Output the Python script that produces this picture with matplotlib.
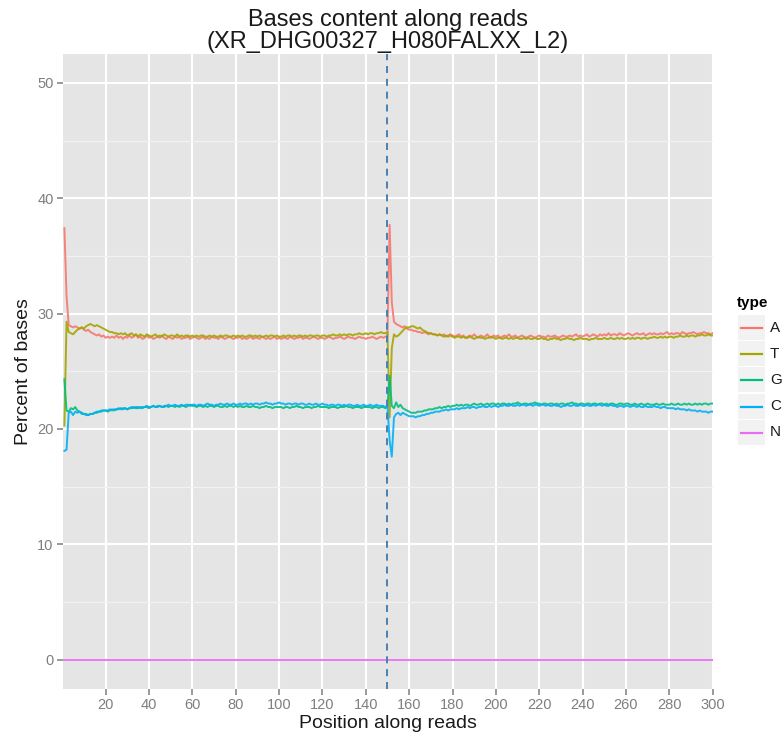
import matplotlib
matplotlib.use("Agg")
import matplotlib.pyplot as plt
from matplotlib.patches import Rectangle
from matplotlib.lines import Line2D

plt.rcParams['font.family'] = ['Liberation Sans', 'DejaVu Sans']

positions = list(range(1, 301))

base_A = [
    37.4, 31.5, 29.0, 28.9, 28.8, 28.9, 28.8, 28.7, 28.8, 28.6, 28.5, 28.6, 28.4, 28.3, 28.2, 28.1, 28.2, 28.0, 28.1, 27.9,
    28.0, 27.9, 28.0, 27.9, 28.1, 27.9, 28.0, 27.8, 28.0, 27.9, 28.1, 27.9, 28.0, 28.2, 27.9, 28.0, 27.8, 27.9, 28.1, 27.9,
    28.0, 27.8, 27.9, 28.0, 27.9, 28.1, 27.9, 27.8, 28.0, 27.9, 27.8, 28.0, 27.9, 28.0, 27.8, 27.9, 27.9, 28.0, 27.8, 27.9,
    28.0, 27.9, 27.8, 27.9, 28.0, 27.8, 27.9, 27.8, 28.0, 27.9, 27.9, 27.8, 28.0, 27.9, 27.8, 27.9, 28.0, 27.9, 27.8, 27.9,
    27.9, 28.0, 27.8, 27.9, 27.8, 27.9, 28.0, 27.8, 27.9, 27.9, 27.8, 28.0, 27.9, 27.8, 27.9, 27.8, 27.9, 28.0, 27.8, 27.9,
    27.8, 27.9, 27.9, 27.8, 28.0, 27.9, 27.8, 27.9, 27.9, 28.0, 27.8, 27.9, 27.9, 27.8, 27.9, 28.0, 27.9, 27.8, 27.9, 27.9,
    27.8, 27.9, 28.0, 27.9, 27.8, 27.9, 27.9, 28.0, 27.9, 27.8, 27.9, 28.0, 27.9, 27.9, 27.8, 27.9, 28.0, 27.9, 27.9, 27.8,
    27.9, 27.9, 28.0, 27.9, 27.8, 27.9, 28.0, 27.9, 28.0, 28.0, 37.7, 31.0, 29.3, 29.1, 29.0, 28.9, 28.8, 28.9, 28.7, 28.6,
    28.6, 28.5, 28.5, 28.4, 28.4, 28.3, 28.4, 28.3, 28.2, 28.3, 28.2, 28.2, 28.1, 28.2, 28.1, 28.2, 28.0, 28.1, 28.2, 28.1,
    28.0, 28.1, 28.2, 28.0, 28.1, 27.9, 28.0, 28.1, 28.0, 28.2, 28.0, 27.9, 28.1, 28.0, 28.0, 28.2, 28.0, 27.9, 28.1, 28.0,
    28.1, 27.9, 28.0, 28.1, 28.0, 28.2, 28.0, 28.0, 28.1, 27.9, 28.0, 28.1, 28.0, 27.9, 28.0, 28.1, 28.0, 27.9, 28.0, 28.1,
    28.0, 28.0, 27.9, 28.1, 28.0, 28.0, 28.1, 28.0, 27.9, 28.0, 28.1, 28.0, 28.0, 28.1, 28.0, 28.1, 28.2, 28.0, 28.1, 28.0,
    28.1, 28.2, 28.0, 28.1, 28.2, 28.1, 28.0, 28.2, 28.1, 28.2, 28.1, 28.3, 28.1, 28.2, 28.2, 28.1, 28.3, 28.2, 28.1, 28.2,
    28.3, 28.2, 28.1, 28.2, 28.3, 28.2, 28.2, 28.3, 28.1, 28.2, 28.3, 28.2, 28.3, 28.2, 28.2, 28.3, 28.2, 28.3, 28.4, 28.2,
    28.3, 28.2, 28.3, 28.3, 28.2, 28.4, 28.3, 28.2, 28.3, 28.3, 28.4, 28.3, 28.2, 28.3, 28.3, 28.4, 28.3, 28.3, 28.2, 28.3,
]

base_T = [
    20.3, 29.3, 28.4, 28.3, 28.2, 28.4, 28.6, 28.7, 28.8, 28.7, 28.9, 29.0, 29.1, 29.0, 28.9, 29.0, 28.9, 28.8, 28.7, 28.6,
    28.5, 28.4, 28.4, 28.3, 28.3, 28.2, 28.3, 28.2, 28.3, 28.1, 28.2, 28.3, 28.1, 28.2, 28.0, 28.2, 28.1, 28.0, 28.2, 28.1,
    28.0, 28.1, 28.2, 28.0, 28.1, 28.0, 28.2, 28.1, 28.0, 28.1, 28.1, 28.0, 28.2, 28.0, 28.1, 28.0, 28.1, 28.1, 28.0, 28.1,
    28.0, 28.1, 28.0, 28.1, 28.1, 28.0, 28.0, 28.1, 28.0, 28.1, 28.0, 28.0, 28.1, 28.0, 28.1, 28.1, 28.0, 28.0, 28.1, 28.0,
    28.1, 28.0, 28.1, 28.0, 28.0, 28.1, 28.1, 28.0, 28.1, 28.0, 28.1, 28.0, 28.0, 28.1, 28.0, 28.1, 28.1, 28.0, 28.1, 28.0,
    28.0, 28.1, 28.0, 28.1, 28.1, 28.0, 28.1, 28.0, 28.1, 28.1, 28.0, 28.1, 28.0, 28.1, 28.1, 28.0, 28.1, 28.1, 28.0, 28.1,
    28.1, 28.0, 28.1, 28.1, 28.2, 28.1, 28.1, 28.2, 28.1, 28.2, 28.1, 28.2, 28.2, 28.1, 28.2, 28.2, 28.3, 28.2, 28.2, 28.3,
    28.2, 28.3, 28.3, 28.2, 28.3, 28.3, 28.4, 28.3, 28.3, 28.4, 21.0, 27.0, 28.2, 28.0, 28.1, 28.3, 28.5, 28.7, 28.8, 28.8,
    28.9, 28.9, 28.8, 28.7, 28.8, 28.6, 28.5, 28.4, 28.3, 28.3, 28.2, 28.2, 28.1, 28.2, 28.1, 28.0, 28.1, 28.0, 28.1, 28.0,
    27.9, 28.0, 28.0, 27.9, 28.0, 27.9, 27.9, 28.0, 27.9, 27.8, 27.9, 28.0, 27.9, 27.9, 27.8, 27.9, 27.9, 28.0, 27.9, 27.8,
    27.9, 27.9, 27.8, 27.9, 27.9, 27.8, 27.9, 27.8, 27.9, 27.9, 27.8, 27.8, 27.9, 27.8, 27.9, 27.8, 27.8, 27.9, 27.8, 27.8,
    27.9, 27.8, 27.8, 27.7, 27.8, 27.8, 27.9, 27.8, 27.8, 27.7, 27.8, 27.8, 27.9, 27.8, 27.8, 27.7, 27.8, 27.8, 27.9, 27.8,
    27.8, 27.8, 27.7, 27.8, 27.8, 27.9, 27.8, 27.8, 27.8, 27.9, 27.8, 27.8, 27.9, 27.8, 27.8, 27.9, 27.8, 27.9, 27.8, 27.8,
    27.9, 27.8, 27.9, 27.8, 27.9, 27.9, 27.8, 27.9, 27.9, 27.8, 27.9, 27.9, 28.0, 27.9, 27.9, 28.0, 27.9, 28.0, 27.9, 28.0,
    28.0, 27.9, 28.0, 28.0, 28.1, 28.0, 28.0, 28.1, 28.0, 28.1, 28.1, 28.0, 28.1, 28.1, 28.2, 28.1, 28.1, 28.2, 28.1, 28.1,
]

base_G = [
    24.3, 21.6, 21.5, 21.8, 21.7, 21.9, 21.6, 21.5, 21.4, 21.3, 21.3, 21.2, 21.3, 21.3, 21.4, 21.4, 21.5, 21.5, 21.6, 21.6,
    21.5, 21.6, 21.7, 21.6, 21.7, 21.7, 21.8, 21.7, 21.8, 21.7, 21.8, 21.8, 21.9, 21.8, 21.8, 21.9, 21.8, 21.9, 21.9, 21.8,
    21.9, 22.0, 21.9, 21.9, 22.0, 21.9, 21.9, 22.0, 21.9, 22.0, 22.0, 21.9, 22.0, 21.9, 22.0, 22.0, 21.9, 22.0, 22.1, 22.0,
    22.0, 21.9, 22.0, 22.0, 21.9, 22.0, 21.9, 22.0, 22.0, 21.9, 22.0, 22.0, 21.9, 21.9, 22.0, 21.9, 22.0, 22.0, 21.9, 22.0,
    21.9, 22.0, 21.9, 21.9, 22.0, 21.9, 21.9, 22.0, 21.9, 21.9, 21.8, 21.9, 21.9, 22.0, 21.9, 21.9, 21.8, 21.9, 21.9, 21.9,
    21.9, 21.8, 21.9, 21.9, 21.8, 21.9, 21.9, 22.0, 21.9, 21.9, 21.8, 21.9, 21.9, 21.9, 21.8, 21.9, 21.9, 22.0, 21.9, 21.9,
    21.9, 21.9, 21.8, 21.9, 21.9, 21.9, 21.8, 21.9, 21.9, 21.9, 22.0, 21.9, 21.9, 21.8, 21.9, 21.9, 21.9, 21.8, 21.9, 21.9,
    21.9, 21.9, 21.8, 21.9, 21.9, 21.8, 21.9, 21.9, 21.8, 21.9, 24.6, 22.0, 21.8, 22.3, 21.9, 22.1, 21.8, 21.7, 21.6, 21.5,
    21.4, 21.4, 21.4, 21.5, 21.5, 21.5, 21.6, 21.6, 21.7, 21.7, 21.7, 21.8, 21.8, 21.9, 21.8, 21.9, 21.9, 22.0, 21.9, 22.0,
    22.0, 22.1, 22.0, 22.1, 22.0, 22.1, 22.1, 22.0, 22.1, 22.2, 22.1, 22.1, 22.2, 22.1, 22.1, 22.2, 22.1, 22.2, 22.2, 22.1,
    22.2, 22.1, 22.2, 22.2, 22.1, 22.2, 22.1, 22.2, 22.2, 22.3, 22.2, 22.1, 22.2, 22.2, 22.1, 22.2, 22.2, 22.3, 22.2, 22.2,
    22.1, 22.2, 22.2, 22.1, 22.2, 22.2, 22.1, 22.2, 22.1, 22.2, 22.2, 22.1, 22.2, 22.2, 22.3, 22.2, 22.2, 22.1, 22.2, 22.2,
    22.1, 22.2, 22.2, 22.1, 22.2, 22.2, 22.1, 22.2, 22.2, 22.1, 22.2, 22.1, 22.2, 22.2, 22.1, 22.1, 22.2, 22.2, 22.1, 22.2,
    22.2, 22.1, 22.1, 22.2, 22.1, 22.1, 22.2, 22.1, 22.1, 22.2, 22.1, 22.1, 22.1, 22.2, 22.1, 22.1, 22.2, 22.1, 22.1, 22.1,
    22.2, 22.1, 22.1, 22.2, 22.1, 22.1, 22.2, 22.1, 22.2, 22.1, 22.1, 22.2, 22.1, 22.2, 22.1, 22.2, 22.2, 22.1, 22.2, 22.2,
]

base_C = [
    18.1, 18.2, 21.4, 21.5, 21.2, 21.5, 21.4, 21.5, 21.3, 21.3, 21.2, 21.2, 21.3, 21.3, 21.4, 21.5, 21.5, 21.6, 21.6, 21.6,
    21.6, 21.7, 21.6, 21.7, 21.7, 21.8, 21.7, 21.8, 21.8, 21.7, 21.8, 21.9, 21.8, 21.9, 21.9, 21.8, 21.9, 21.9, 22.0, 21.9,
    21.9, 22.0, 21.9, 22.0, 22.0, 21.9, 22.0, 22.0, 22.1, 22.0, 22.0, 22.1, 22.0, 22.0, 22.1, 22.0, 22.1, 22.1, 22.0, 22.1,
    22.1, 22.0, 22.1, 22.1, 22.0, 22.1, 22.2, 22.1, 22.1, 22.0, 22.1, 22.1, 22.2, 22.1, 22.1, 22.2, 22.1, 22.1, 22.2, 22.1,
    22.1, 22.2, 22.1, 22.2, 22.2, 22.1, 22.2, 22.1, 22.2, 22.2, 22.1, 22.2, 22.2, 22.3, 22.2, 22.2, 22.1, 22.2, 22.2, 22.3,
    22.2, 22.2, 22.1, 22.2, 22.2, 22.1, 22.2, 22.2, 22.1, 22.2, 22.2, 22.1, 22.1, 22.2, 22.1, 22.1, 22.2, 22.1, 22.1, 22.2,
    22.1, 22.1, 22.0, 22.1, 22.1, 22.0, 22.1, 22.1, 22.0, 22.1, 22.0, 22.1, 22.1, 22.0, 22.0, 22.1, 22.0, 22.0, 22.1, 22.0,
    22.0, 22.1, 22.0, 22.0, 22.1, 22.0, 22.0, 22.0, 21.9, 22.0, 19.0, 17.6, 21.0, 21.3, 21.4, 21.2, 21.4, 21.3, 21.2, 21.1,
    21.1, 21.1, 21.0, 21.1, 21.1, 21.2, 21.2, 21.3, 21.3, 21.4, 21.4, 21.5, 21.5, 21.5, 21.6, 21.6, 21.7, 21.6, 21.7, 21.7,
    21.7, 21.8, 21.7, 21.8, 21.8, 21.8, 21.9, 21.8, 21.9, 21.9, 21.8, 21.9, 21.9, 22.0, 21.9, 21.9, 22.0, 21.9, 22.0, 22.0,
    21.9, 22.0, 22.0, 22.1, 22.0, 22.0, 22.1, 22.0, 22.0, 22.1, 22.0, 22.1, 22.1, 22.0, 22.1, 22.1, 22.0, 22.1, 22.1, 22.0,
    22.1, 22.1, 22.0, 22.1, 22.0, 22.0, 22.1, 22.0, 22.0, 21.9, 22.0, 22.0, 22.1, 22.0, 22.0, 22.1, 22.0, 22.0, 22.1, 22.0,
    22.0, 22.1, 22.0, 22.0, 22.1, 22.0, 22.1, 22.1, 22.0, 22.1, 22.0, 22.0, 22.1, 22.0, 22.0, 21.9, 22.0, 22.0, 21.9, 22.0,
    22.0, 21.9, 22.0, 22.0, 21.9, 22.0, 21.9, 21.9, 22.0, 21.9, 21.9, 21.9, 22.0, 21.9, 21.9, 21.8, 21.9, 21.9, 21.8, 21.8,
    21.8, 21.8, 21.7, 21.8, 21.7, 21.7, 21.7, 21.6, 21.7, 21.6, 21.6, 21.6, 21.5, 21.6, 21.5, 21.5, 21.5, 21.4, 21.5, 21.5,
]

base_N = [
    0.0, 0.0, 0.0, 0.0, 0.0, 0.0, 0.0, 0.0, 0.0, 0.0, 0.0, 0.0, 0.0, 0.0, 0.0, 0.0, 0.0, 0.0, 0.0, 0.0,
    0.0, 0.0, 0.0, 0.0, 0.0, 0.0, 0.0, 0.0, 0.0, 0.0, 0.0, 0.0, 0.0, 0.0, 0.0, 0.0, 0.0, 0.0, 0.0, 0.0,
    0.0, 0.0, 0.0, 0.0, 0.0, 0.0, 0.0, 0.0, 0.0, 0.0, 0.0, 0.0, 0.0, 0.0, 0.0, 0.0, 0.0, 0.0, 0.0, 0.0,
    0.0, 0.0, 0.0, 0.0, 0.0, 0.0, 0.0, 0.0, 0.0, 0.0, 0.0, 0.0, 0.0, 0.0, 0.0, 0.0, 0.0, 0.0, 0.0, 0.0,
    0.0, 0.0, 0.0, 0.0, 0.0, 0.0, 0.0, 0.0, 0.0, 0.0, 0.0, 0.0, 0.0, 0.0, 0.0, 0.0, 0.0, 0.0, 0.0, 0.0,
    0.0, 0.0, 0.0, 0.0, 0.0, 0.0, 0.0, 0.0, 0.0, 0.0, 0.0, 0.0, 0.0, 0.0, 0.0, 0.0, 0.0, 0.0, 0.0, 0.0,
    0.0, 0.0, 0.0, 0.0, 0.0, 0.0, 0.0, 0.0, 0.0, 0.0, 0.0, 0.0, 0.0, 0.0, 0.0, 0.0, 0.0, 0.0, 0.0, 0.0,
    0.0, 0.0, 0.0, 0.0, 0.0, 0.0, 0.0, 0.0, 0.0, 0.0, 0.0, 0.0, 0.0, 0.0, 0.0, 0.0, 0.0, 0.0, 0.0, 0.0,
    0.0, 0.0, 0.0, 0.0, 0.0, 0.0, 0.0, 0.0, 0.0, 0.0, 0.0, 0.0, 0.0, 0.0, 0.0, 0.0, 0.0, 0.0, 0.0, 0.0,
    0.0, 0.0, 0.0, 0.0, 0.0, 0.0, 0.0, 0.0, 0.0, 0.0, 0.0, 0.0, 0.0, 0.0, 0.0, 0.0, 0.0, 0.0, 0.0, 0.0,
    0.0, 0.0, 0.0, 0.0, 0.0, 0.0, 0.0, 0.0, 0.0, 0.0, 0.0, 0.0, 0.0, 0.0, 0.0, 0.0, 0.0, 0.0, 0.0, 0.0,
    0.0, 0.0, 0.0, 0.0, 0.0, 0.0, 0.0, 0.0, 0.0, 0.0, 0.0, 0.0, 0.0, 0.0, 0.0, 0.0, 0.0, 0.0, 0.0, 0.0,
    0.0, 0.0, 0.0, 0.0, 0.0, 0.0, 0.0, 0.0, 0.0, 0.0, 0.0, 0.0, 0.0, 0.0, 0.0, 0.0, 0.0, 0.0, 0.0, 0.0,
    0.0, 0.0, 0.0, 0.0, 0.0, 0.0, 0.0, 0.0, 0.0, 0.0, 0.0, 0.0, 0.0, 0.0, 0.0, 0.0, 0.0, 0.0, 0.0, 0.0,
    0.0, 0.0, 0.0, 0.0, 0.0, 0.0, 0.0, 0.0, 0.0, 0.0, 0.0, 0.0, 0.0, 0.0, 0.0, 0.0, 0.0, 0.0, 0.0, 0.0,
]

types = ["A", "T", "G", "C", "N"]
series = [base_A, base_T, base_G, base_C, base_N]
colors = ["#F8766D", "#A3A500", "#00BF7D", "#00B0F6", "#E76BF3"]
read_boundary = 150
x_ticks = [20, 40, 60, 80, 100, 120, 140, 160, 180, 200, 220, 240, 260, 280, 300]
y_ticks = [0, 10, 20, 30, 40, 50]
y_minor = [5, 15, 25, 35, 45]

W, H = 784, 736
fig = plt.figure(figsize=(W / 100, H / 100), dpi=100)
px0, px1, py0, py1 = 63.3, 712.7, 54, 688.5
ax = fig.add_axes([px0 / W, 1 - py1 / H, (px1 - px0) / W, (py1 - py0) / H])
ax.set_facecolor("#E5E5E5")
for s in ax.spines.values():
    s.set_visible(False)

ax.set_xlim(0.5, 300)
ax.set_ylim(-2.5, 52.5)
ax.set_xticks(x_ticks)
ax.set_yticks(y_ticks)
ax.set_yticks(y_minor, minor=True)
ax.tick_params(axis="y", which="minor", length=0)
ax.grid(True, which="major", color="white", lw=1.5, zorder=0)
ax.grid(True, which="minor", axis="y", color="#F2F2F2", lw=0.9, zorder=0)
ax.set_axisbelow(True)
ax.tick_params(axis="both", which="major", colors="#7F7F7F", labelcolor="#7F7F7F",
               labelsize=10.5, length=4, width=1.1, pad=3)

for name, vals, col in zip(types, series, colors):
    ax.plot(positions, vals, color=col, lw=1.4, alpha=0.9, zorder=3, solid_joinstyle="round")

ax.axvline(read_boundary, color="#4682B4", lw=1.4, dashes=(3.6, 3.0), zorder=5)

ax.set_xlabel("Position along reads", fontsize=14, labelpad=2, color="#1A1A1A")
ax.set_ylabel("Percent of bases", fontsize=14, labelpad=4, color="#1A1A1A")

fig.text((px0 + px1) / 2 / W, 1 - 9 / H, "Bases content along reads\n(XR_DHG00327_H080FALXX_L2)",
         ha="center", va="top", fontsize=17, linespacing=1.0, color="#1A1A1A")

# legend
fig.text(737 / W, 1 - 303 / H, "type", fontsize=11, fontweight="bold", ha="left", va="center")
key_tops = [315, 341, 367, 394, 420]
for name, col, top in zip(types, colors, key_tops):
    fig.patches.append(Rectangle((738 / W, 1 - (top + 25) / H), 27 / W, 25 / H,
                                 transform=fig.transFigure, facecolor="#F2F2F2", edgecolor="none"))
    yc = 1 - (top + 12.5) / H
    fig.lines.append(Line2D([741 / W, 762 / W], [yc, yc], transform=fig.transFigure, color=col, lw=1.6))
    fig.text(770 / W, yc, name, fontsize=11, ha="left", va="center", color="#1A1A1A")

fig.savefig("out.png", dpi=100)
